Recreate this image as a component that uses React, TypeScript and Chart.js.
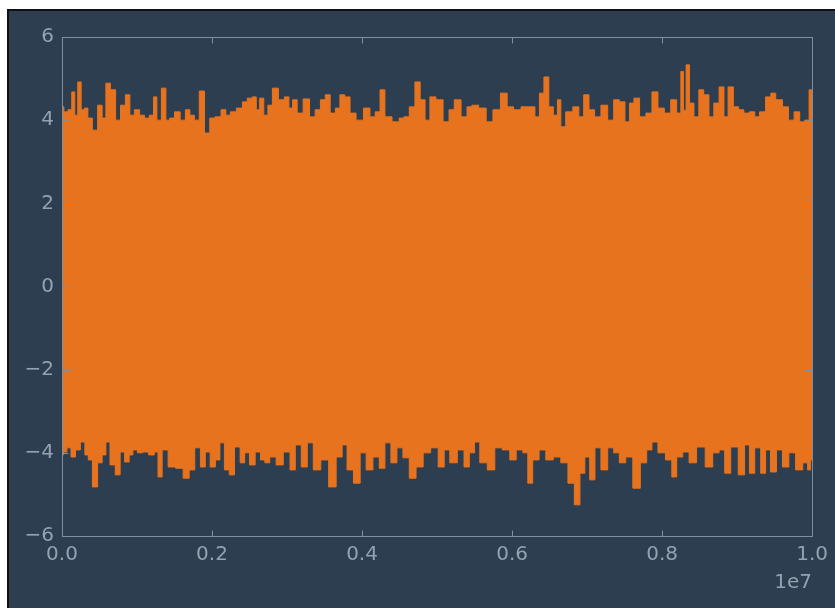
import React, { useEffect, useRef } from 'react';
import { Chart, registerables } from 'chart.js';

Chart.register(...registerables);

// x in units of 1e7, y = signal amplitude (envelope of the dense signal)
const xTicks = [0, 0.2, 0.4, 0.6, 0.8, 1.0];
const yTicks = [-6, -4, -2, 0, 2, 4, 6];
const xOffsetText = '1e7';

const upperEnvelope: [number, number][] = [
  [0.000, 4.32], [0.005, 4.20], [0.011, 4.25], [0.015, 4.68], [0.019, 4.12], [0.023, 4.92],
  [0.028, 4.25], [0.032, 4.29], [0.037, 4.05], [0.044, 3.76], [0.051, 4.36], [0.056, 4.05],
  [0.061, 4.89], [0.068, 4.73], [0.075, 4.00], [0.081, 4.36], [0.088, 4.61], [0.093, 4.12],
  [0.100, 4.25], [0.107, 4.12], [0.113, 4.05], [0.120, 4.12], [0.124, 4.56], [0.129, 4.00],
  [0.136, 4.77], [0.141, 4.00], [0.146, 4.05], [0.154, 4.20], [0.161, 4.00], [0.168, 4.25],
  [0.173, 4.12], [0.180, 4.00], [0.186, 4.70], [0.194, 3.69], [0.200, 4.05], [0.208, 4.08],
  [0.216, 4.25], [0.221, 4.12], [0.228, 4.20], [0.237, 4.29], [0.244, 4.44], [0.250, 4.53],
  [0.257, 4.56], [0.261, 4.25], [0.266, 4.53], [0.272, 4.12], [0.277, 4.36], [0.284, 4.77],
  [0.293, 4.49], [0.300, 4.56], [0.305, 4.29], [0.310, 4.49], [0.317, 4.17], [0.326, 4.51],
  [0.334, 4.08], [0.341, 4.25], [0.348, 4.49], [0.354, 4.61], [0.361, 4.17], [0.368, 4.29],
  [0.373, 4.61], [0.381, 4.56], [0.387, 4.17], [0.397, 4.00], [0.407, 4.29], [0.414, 4.08],
  [0.421, 4.20], [0.427, 4.73], [0.434, 4.08], [0.446, 3.96], [0.453, 4.05], [0.459, 4.08],
  [0.467, 4.32], [0.474, 4.92], [0.481, 4.49], [0.487, 4.00], [0.494, 4.56], [0.503, 4.49],
  [0.513, 3.96], [0.519, 4.25], [0.527, 4.49], [0.537, 4.08], [0.543, 4.32], [0.550, 4.36],
  [0.561, 4.29], [0.570, 3.96], [0.579, 4.25], [0.590, 4.65], [0.597, 4.32], [0.607, 4.25],
  [0.617, 4.32], [0.627, 4.32], [0.634, 4.08], [0.639, 4.65], [0.646, 5.04], [0.652, 4.32],
  [0.658, 4.12], [0.663, 4.49], [0.667, 3.84], [0.676, 4.20], [0.686, 4.32], [0.692, 4.08],
  [0.699, 4.61], [0.706, 4.25], [0.714, 4.08], [0.723, 4.36], [0.732, 4.00], [0.739, 4.49],
  [0.747, 4.44], [0.754, 3.96], [0.759, 4.41], [0.766, 4.53], [0.774, 4.08], [0.783, 4.17],
  [0.790, 4.68], [0.799, 4.29], [0.807, 4.17], [0.816, 4.49], [0.823, 4.17], [0.827, 5.17],
  [0.830, 4.24], [0.834, 5.33], [0.839, 4.41], [0.846, 4.08], [0.852, 4.73], [0.859, 4.61],
  [0.866, 4.08], [0.872, 4.41], [0.880, 4.80], [0.885, 4.08], [0.891, 4.80], [0.899, 4.32],
  [0.905, 4.25], [0.913, 4.17], [0.920, 4.20], [0.927, 4.08], [0.933, 4.20], [0.943, 4.56],
  [0.947, 4.65], [0.956, 4.49], [0.965, 4.32], [0.972, 4.00], [0.980, 4.20], [0.987, 3.96],
  [0.993, 4.00], [0.999, 4.73], [1.000, 4.68],
];

const lowerEnvelope: [number, number][] = [
  [0.000, -4.05], [0.004, -3.98], [0.009, -3.88], [0.015, -4.10], [0.021, -3.93], [0.028, -3.74],
  [0.033, -4.05], [0.037, -4.17], [0.044, -4.82], [0.051, -4.24], [0.056, -4.05], [0.061, -3.74],
  [0.067, -4.29], [0.075, -4.53], [0.080, -3.98], [0.087, -4.22], [0.092, -4.05], [0.097, -3.93],
  [0.104, -4.00], [0.111, -3.98], [0.120, -4.05], [0.126, -3.98], [0.130, -4.58], [0.137, -3.93],
  [0.146, -4.34], [0.157, -4.37], [0.166, -4.61], [0.173, -4.41], [0.181, -3.88], [0.188, -4.34],
  [0.194, -3.98], [0.201, -4.34], [0.208, -4.17], [0.213, -3.76], [0.220, -4.41], [0.226, -4.53],
  [0.234, -3.86], [0.241, -4.24], [0.246, -4.00], [0.254, -4.29], [0.261, -3.98], [0.268, -4.17],
  [0.273, -4.24], [0.281, -4.10], [0.290, -4.29], [0.300, -3.98], [0.308, -4.41], [0.314, -3.81],
  [0.324, -4.34], [0.330, -3.76], [0.340, -4.41], [0.350, -4.17], [0.361, -4.82], [0.370, -4.10],
  [0.377, -3.81], [0.383, -4.41], [0.394, -4.73], [0.401, -4.00], [0.410, -4.41], [0.419, -4.10],
  [0.427, -4.37], [0.434, -3.76], [0.443, -4.24], [0.450, -3.88], [0.459, -4.12], [0.467, -4.61],
  [0.477, -4.34], [0.486, -4.00], [0.497, -3.88], [0.506, -4.34], [0.513, -3.93], [0.521, -4.24],
  [0.533, -3.93], [0.539, -4.34], [0.547, -4.00], [0.553, -3.74], [0.561, -4.24], [0.573, -4.41],
  [0.581, -3.88], [0.593, -3.93], [0.601, -4.17], [0.610, -3.93], [0.619, -4.00], [0.623, -4.73],
  [0.632, -4.17], [0.640, -3.93], [0.650, -4.17], [0.660, -4.10], [0.670, -4.24], [0.679, -4.73],
  [0.687, -5.25], [0.694, -4.49], [0.700, -4.10], [0.707, -4.65], [0.714, -3.88], [0.723, -4.41],
  [0.732, -3.88], [0.739, -4.00], [0.747, -4.24], [0.756, -4.10], [0.766, -4.85], [0.776, -4.24],
  [0.783, -3.93], [0.790, -3.74], [0.799, -4.00], [0.810, -4.17], [0.816, -4.58], [0.823, -4.10],
  [0.832, -3.98], [0.840, -4.24], [0.852, -3.86], [0.863, -4.34], [0.872, -4.00], [0.880, -3.93],
  [0.887, -4.49], [0.896, -3.86], [0.907, -4.53], [0.913, -3.81], [0.920, -4.49], [0.927, -3.88],
  [0.936, -4.49], [0.940, -3.93], [0.949, -4.46], [0.956, -3.93], [0.965, -4.34], [0.973, -4.00],
  [0.983, -4.41], [0.992, -4.24], [0.996, -4.41], [1.000, -4.17],
];

const BG = '#2c3e50';
const ORANGE = '#e8731e';
const SPINE = '#7d8fa1';
const TEXT = '#93a2b1';
const FONT = "'DejaVu Sans', sans-serif";

const framePlugin = {
  id: 'frame',
  afterDatasetsDraw(chart: any) {
    const { ctx, chartArea: a, scales } = chart;
    const L = Math.round(a.left) + 0.5;
    const R = Math.round(a.right) + 0.5;
    const T = Math.round(a.top) + 0.5;
    const B = Math.round(a.bottom) + 0.5;
    const len = 6;
    ctx.save();
    ctx.strokeStyle = SPINE;
    ctx.lineWidth = 1;
    ctx.strokeRect(L, T, R - L, B - T);
    ctx.beginPath();
    for (const t of scales.x.ticks) {
      const px = Math.round(scales.x.getPixelForValue(t.value)) + 0.5;
      ctx.moveTo(px, B); ctx.lineTo(px, B - len);
      ctx.moveTo(px, T); ctx.lineTo(px, T + len);
    }
    for (const t of scales.y.ticks) {
      const py = Math.round(scales.y.getPixelForValue(t.value)) + 0.5;
      ctx.moveTo(L, py); ctx.lineTo(L + len, py);
      ctx.moveTo(R, py); ctx.lineTo(R - len, py);
    }
    ctx.stroke();
    ctx.restore();
  },
};

export default function App() {
  const ref = useRef<HTMLCanvasElement>(null);
  useEffect(() => {
    if (!ref.current) return;
    const toPts = (arr: [number, number][]) => arr.map(([x, y]) => ({ x, y }));
    const chart = new Chart(ref.current, {
      type: 'line',
      data: {
        datasets: [
          {
            data: toPts(upperEnvelope),
            borderColor: ORANGE,
            backgroundColor: ORANGE,
            borderWidth: 1,
            pointRadius: 0,
            stepped: 'middle',
            fill: '+1',
          },
          {
            data: toPts(lowerEnvelope),
            borderColor: ORANGE,
            backgroundColor: ORANGE,
            borderWidth: 1,
            pointRadius: 0,
            stepped: 'middle',
            fill: false,
          },
        ],
      },
      options: {
        animation: false,
        responsive: false,
        maintainAspectRatio: false,
        events: [],
        layout: { padding: { top: 26, right: 22, left: 0, bottom: 0 } },
        plugins: { legend: { display: false }, tooltip: { enabled: false } },
        scales: {
          x: {
            type: 'linear',
            min: 0,
            max: 1,
            grid: { display: false, drawTicks: false },
            border: { display: false },
            afterBuildTicks: (s: any) => { s.ticks = xTicks.map((v) => ({ value: v })); },
            afterFit: (s: any) => { s.height = 72; },
            ticks: {
              color: TEXT,
              font: { family: FONT, size: 20 },
              padding: 7,
              maxRotation: 0,
              autoSkip: false,
              callback: (v: any) => Number(v).toFixed(1),
            },
            title: {
              display: true,
              text: xOffsetText,
              align: 'end',
              color: TEXT,
              font: { family: FONT, size: 20 },
              padding: { top: 0, bottom: 13 },
            },
          },
          y: {
            type: 'linear',
            min: -6,
            max: 6,
            grid: { display: false, drawTicks: false },
            border: { display: false },
            afterBuildTicks: (s: any) => { s.ticks = yTicks.map((v) => ({ value: v })); },
            afterFit: (s: any) => { s.width = 53; },
            ticks: {
              color: TEXT,
              font: { family: FONT, size: 20 },
              padding: 8,
              autoSkip: false,
              callback: (v: any) => (Number(v) < 0 ? '\u2212' + Math.abs(Number(v)) : String(v)),
            },
          },
        },
      },
      plugins: [framePlugin],
    });
    return () => chart.destroy();
  }, []);

  return (
    <div
      style={{
        position: 'fixed',
        left: 7,
        top: 9,
        width: 828,
        height: 599,
        boxSizing: 'border-box',
        borderLeft: '2px solid #111',
        borderTop: '2px solid #111',
        background: BG,
        overflow: 'hidden',
      }}
    >
      <canvas ref={ref} width={826} height={597} style={{ display: 'block', width: 826, height: 597 }} />
    </div>
  );
}
